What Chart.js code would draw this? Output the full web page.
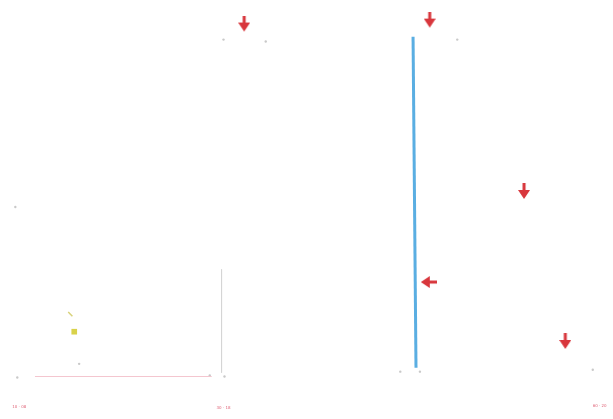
<!DOCTYPE html>
<html>
<head>
<meta charset="utf-8">
<script src="https://cdn.jsdelivr.net/npm/chart.js@4.4.1/dist/chart.umd.min.js"></script>
<style>
html,body{margin:0;padding:0;background:#fff;}
#wrap{width:613px;height:419px;position:relative;}
</style>
</head>
<body>
<div id="wrap"><canvas id="c"></canvas></div>
<script>
// Data (units: x 0..61.3, y 0..41.9)
const downArrowX = [24.3, 43.2, 52.8, 57.0];
const downArrowY = [40.0, 40.4, 22.8, 7.4];
const leftArrowX = [43.1];
const leftArrowY = [13.5];
const blueLineX = [41.5, 41.8];
const blueLineY = [38.7, 4.7];
const yellowX = [7.0];
const yellowY = [8.4];
const yellowTickX = [6.6];
const yellowTickY = [10.2];
const grayLineX = [22.0, 22.0];
const grayLineY = [14.8, 4.2];
const pinkLineX = [3.0, 21.0];
const pinkLineY = [3.8, 3.8];
const dotX = [22.2, 26.5, 46.0, 1.0, 1.2, 59.8, 40.2, 42.2, 20.8, 22.3, 7.5];
const dotY = [38.4, 38.2, 38.4, 21.2, 3.7, 4.5, 4.3, 4.3, 3.9, 3.8, 5.1];
const bottomLabels = ["10 · 08", "30 · 18", "60 · 20"];
const bottomLabelX = [1.4, 22.2, 60.5];
const bottomLabelY = [0.7, 0.6, 0.8];

function arrowImg(dir){
  const c=document.createElement('canvas');
  const w = dir==='down'?12:16, h = dir==='down'?17:12;
  c.width=w;c.height=h;
  const g=c.getContext('2d');
  g.fillStyle='#d8363c';
  g.beginPath();
  if(dir==='down'){
    g.rect(4.5,0,3,9);
    g.moveTo(0,7);g.lineTo(12,7);g.lineTo(6,16);g.closePath();
  }else{
    g.rect(7,4.5,9,3);
    g.moveTo(9,0);g.lineTo(9,12);g.lineTo(0,6);g.closePath();
  }
  g.fill();
  return c;
}
const pts=(xs,ys)=>xs.map((x,i)=>({x:x,y:ys[i]}));

const labelPlugin={
  id:'labels',
  afterDatasetsDraw(chart){
    const {ctx,scales:{x,y}}=chart;
    ctx.save();
    ctx.font='4px "DejaVu Sans"';
    ctx.fillStyle='#e0667a';
    ctx.textAlign='center';ctx.textBaseline='middle';
    bottomLabels.forEach((t,i)=>{
      ctx.fillText(t,x.getPixelForValue(bottomLabelX[i]),y.getPixelForValue(bottomLabelY[i]));
    });
    ctx.restore();
  }
};

new Chart(document.getElementById('c'),{
  type:'scatter',
  data:{datasets:[
    {data:pts(blueLineX,blueLineY),showLine:true,borderColor:'#5aaee2',borderWidth:3,pointRadius:0},
    {data:pts(grayLineX,grayLineY),showLine:true,borderColor:'#d6d6d6',borderWidth:1,pointRadius:0},
    {data:pts(pinkLineX,pinkLineY),showLine:true,borderColor:'#f4c6cf',borderWidth:1,pointRadius:0},
    {data:pts(dotX,dotY),pointRadius:1.2,backgroundColor:'#c9c9c9',borderWidth:0},
    {data:pts(yellowX,yellowY),pointStyle:'rect',pointRadius:4,backgroundColor:'#d9d24a',borderWidth:0},
    {data:pts(yellowTickX,yellowTickY),pointStyle:'line',rotation:45,pointRadius:3,borderColor:'#d8d27a',borderWidth:1.5},
    {data:pts(downArrowX,downArrowY),pointStyle:arrowImg('down')},
    {data:pts(leftArrowX,leftArrowY),pointStyle:arrowImg('left')}
  ]},
  options:{
    responsive:true,maintainAspectRatio:false,animation:false,
    layout:{padding:0},
    plugins:{legend:{display:false},tooltip:{enabled:false}},
    clip:false,
    scales:{
      x:{type:'linear',min:0,max:61.3,display:false},
      y:{type:'linear',min:0,max:41.9,display:false}
    }
  },
  plugins:[labelPlugin]
});
</script>
</body>
</html>
